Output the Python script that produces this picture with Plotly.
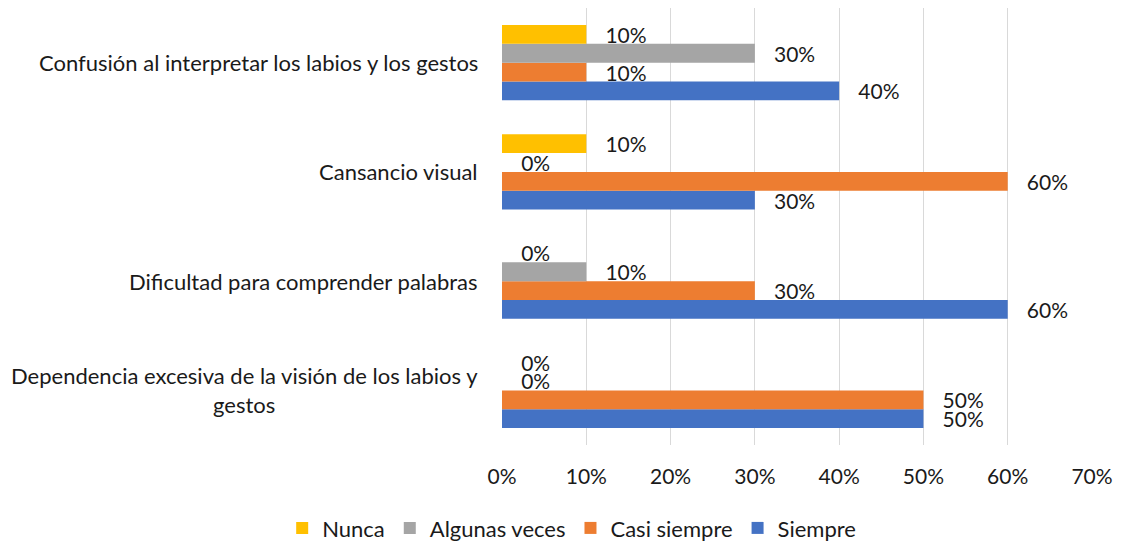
import plotly.graph_objects as go

# categories, bottom to top as drawn
categorias = [
    "Dependencia excesiva de la visión de los labios y<br>gestos",
    "Dificultad para comprender palabras",
    "Cansancio visual",
    "Confusión al interpretar los labios y los gestos",
]

nunca = [0.0, 0.0, 0.10, 0.10]
algunas_veces = [0.0, 0.10, 0.0, 0.30]
casi_siempre = [0.50, 0.30, 0.60, 0.10]
siempre = [0.50, 0.60, 0.30, 0.40]

x_ticks = [0, 0.1, 0.2, 0.3, 0.4, 0.5, 0.6, 0.7]

FONT = "Lato, Calibri, sans-serif"
TXT = "#1a1a1a"

series = [
    ("Siempre", siempre, "#4472C4"),
    ("Casi siempre", casi_siempre, "#ED7D31"),
    ("Algunas veces", algunas_veces, "#A5A5A5"),
    ("Nunca", nunca, "#FFC000"),
]

fig = go.Figure()
for name, vals, color in series:
    fig.add_trace(go.Bar(
        y=categorias,
        x=vals,
        name=name,
        orientation="h",
        marker=dict(color=color, line=dict(width=0)),
        text=["\u00a0\u00a0\u00a0" + f"{v:.0%}" for v in vals],
        textposition="outside",
        constraintext="none",
        textfont=dict(family=FONT, size=21, color=TXT),
        cliponaxis=False,
    ))

# category labels as annotations so the wrapped one is centred
for c in categorias:
    fig.add_annotation(
        x=0, xref="paper", y=c, yref="y",
        text=c, showarrow=False,
        xanchor="right", xshift=-22, align="center",
        font=dict(family=FONT, size=22, color=TXT),
    )

# the page body adds 8px, so the figure is 8px smaller than the window
fig.update_layout(
    width=1114,
    height=534,
    barmode="group",
    bargap=0.31,
    bargroupgap=0,
    plot_bgcolor="white",
    paper_bgcolor="white",
    margin=dict(l=494, r=30, t=0, b=97),
    font=dict(family=FONT, size=22, color=TXT),
    showlegend=True,
    legend=dict(
        orientation="h",
        traceorder="reversed",
        xref="container", yref="container",
        x=0.506, xanchor="center",
        y=0.026, yanchor="middle",
        font=dict(family=FONT, size=22, color=TXT),
        itemwidth=30,
        entrywidthmode="pixels",
        entrywidth=0,
    ),
)

fig.update_xaxes(
    range=[0, 0.7],
    tickvals=x_ticks,
    tickformat=".0%",
    showgrid=True,
    gridcolor="#D9D9D9",
    gridwidth=1,
    zeroline=False,
    showline=False,
    ticks="",
    ticklabelstandoff=17,
    tickfont=dict(family=FONT, size=21, color=TXT),
)
fig.update_yaxes(
    showticklabels=False,
    showgrid=False,
    zeroline=False,
    showline=False,
    ticks="",
)

fig.write_html("out.html")
